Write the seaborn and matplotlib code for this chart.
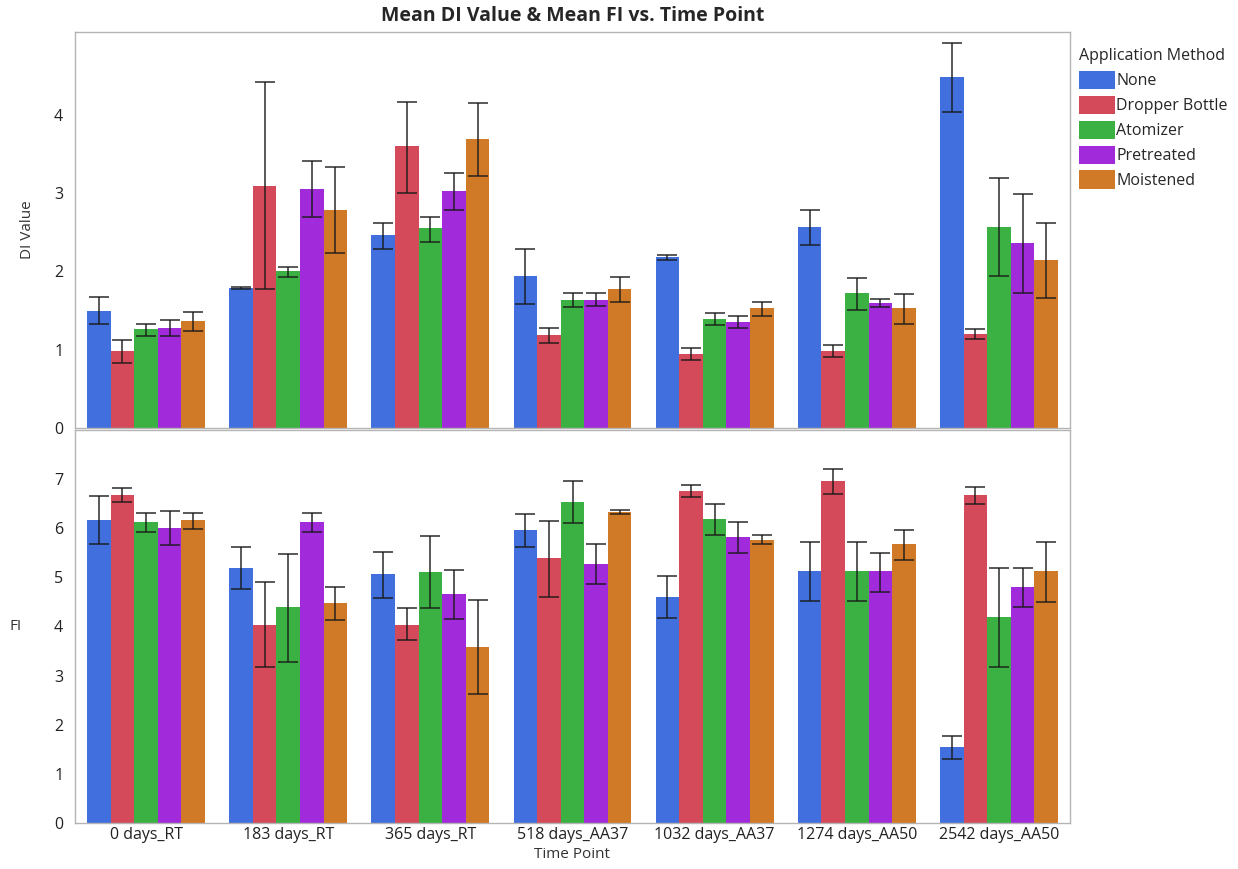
import numpy as np
import pandas as pd
import matplotlib
matplotlib.use("Agg")
import matplotlib.pyplot as plt
import seaborn as sns

# categories
time_points = ["0 days_RT", "183 days_RT", "365 days_RT", "518 days_AA37",
               "1032 days_AA37", "1274 days_AA50", "2542 days_AA50"]
methods = ["None", "Dropper Bottle", "Atomizer", "Pretreated", "Moistened"]
colors = ["#4170DE", "#D44A5A", "#3BB143", "#A12BDA", "#D07A27"]

# DI value means and error bar ends (rows = time point, cols = method)
di_mean = [[1.50, 0.99, 1.26, 1.28, 1.37],
           [1.79, 3.09, 2.00, 3.06, 2.79],
           [2.46, 3.60, 2.55, 3.03, 3.69],
           [1.94, 1.19, 1.64, 1.64, 1.78],
           [2.18, 0.94, 1.39, 1.36, 1.53],
           [2.57, 0.98, 1.72, 1.60, 1.53],
           [4.48, 1.20, 2.57, 2.36, 2.15]]
di_low = [[1.33, 0.83, 1.18, 1.17, 1.24],
          [1.78, 1.77, 1.93, 2.69, 2.23],
          [2.29, 3.00, 2.38, 2.78, 3.22],
          [1.58, 1.09, 1.54, 1.56, 1.61],
          [2.15, 0.87, 1.31, 1.28, 1.43],
          [2.34, 0.91, 1.51, 1.55, 1.33],
          [4.04, 1.14, 1.94, 1.73, 1.66]]
di_high = [[1.67, 1.13, 1.33, 1.38, 1.48],
           [1.80, 4.42, 2.06, 3.41, 3.34],
           [2.62, 4.17, 2.70, 3.26, 4.15],
           [2.29, 1.28, 1.73, 1.72, 1.93],
           [2.21, 1.02, 1.47, 1.43, 1.61],
           [2.79, 1.06, 1.92, 1.65, 1.71],
           [4.92, 1.26, 3.19, 2.99, 2.62]]

# FI means and error bar ends
fi_mean = [[6.17, 6.68, 6.13, 6.01, 6.16],
           [5.19, 4.04, 4.39, 6.12, 4.47],
           [5.06, 4.04, 5.11, 4.66, 3.59],
           [5.96, 5.39, 6.54, 5.28, 6.34],
           [4.61, 6.76, 6.19, 5.82, 5.77],
           [5.13, 6.96, 5.13, 5.12, 5.68],
           [1.54, 6.68, 4.19, 4.80, 5.12]]
fi_low = [[5.67, 6.53, 5.92, 5.66, 5.99],
          [4.77, 3.18, 3.28, 5.92, 4.13],
          [4.59, 3.73, 4.37, 4.16, 2.62],
          [5.61, 4.61, 6.11, 4.87, 6.29],
          [4.18, 6.63, 5.86, 5.50, 5.67],
          [4.52, 6.70, 4.52, 4.71, 5.36],
          [1.30, 6.49, 3.18, 4.39, 4.49]]
fi_high = [[6.66, 6.82, 6.32, 6.36, 6.31],
           [5.62, 4.90, 5.48, 6.31, 4.80],
           [5.52, 4.37, 5.84, 5.15, 4.53],
           [6.30, 6.15, 6.97, 5.68, 6.37],
           [5.03, 6.88, 6.50, 6.12, 5.86],
           [5.73, 7.20, 5.73, 5.50, 5.96],
           [1.77, 6.84, 5.20, 5.20, 5.72]]


def long_table(mean, low, high):
    rows = []
    for i, tp in enumerate(time_points):
        for j, m in enumerate(methods):
            rows.append({"Time Point": tp, "Application Method": m,
                         "mean": mean[i][j], "low": low[i][j], "high": high[i][j]})
    return pd.DataFrame(rows)


di_df = long_table(di_mean, di_low, di_high)
fi_df = long_table(fi_mean, fi_low, fi_high)

sns.set_style("white")
plt.rcParams["font.family"] = ["Open Sans", "DejaVu Sans"]

fig = plt.figure(figsize=(12.38, 8.69), dpi=100)
W, H = 1238, 869
ax1 = fig.add_axes([75 / W, (H - 428) / H, 995 / W, 396 / H])
ax2 = fig.add_axes([75 / W, (H - 823) / H, 995 / W, 393 / H])

palette = dict(zip(methods, colors))


def draw(ax, df, ylim, ticks):
    sns.barplot(data=df, x="Time Point", y="mean", hue="Application Method",
                order=time_points, hue_order=methods, palette=palette,
                errorbar=None, width=0.83, gap=0, saturation=1,
                linewidth=0, ax=ax)
    # error bars at the bar centers
    for j, m in enumerate(methods):
        cont = ax.containers[j]
        sub = df[df["Application Method"] == m].set_index("Time Point").loc[time_points]
        xs = [p.get_x() + p.get_width() / 2 for p in cont.patches]
        ys = sub["mean"].values
        yerr = [ys - sub["low"].values, sub["high"].values - ys]
        ax.errorbar(xs, ys, yerr=yerr, fmt="none", ecolor="#1a1a1a",
                    elinewidth=1.2, capsize=7, capthick=1.2, alpha=0.85, zorder=5)
    ax.set_xlim(-0.5, 6.5)
    ax.set_ylim(*ylim)
    ax.set_yticks(ticks)
    for s in ax.spines.values():
        s.set_color("#b4b4b4")
        s.set_linewidth(1.0)
    ax.tick_params(axis="y", direction="out", length=5, color="#b4b4b4",
                   labelsize=11.5, labelcolor="#222222")
    ax.tick_params(axis="x", length=0, labelsize=11.5, labelcolor="#222222", pad=3)


draw(ax1, di_df, (0, 5.06), [0, 1, 2, 3, 4])
draw(ax2, fi_df, (0, 8.0), [0, 1, 2, 3, 4, 5, 6, 7])

ax1.set_xticklabels([])
ax1.set_xlabel("")
ax1.set_ylabel("DI Value", fontsize=11, color="#333333", labelpad=14)
ax2.set_ylabel("FI", fontsize=11, color="#333333", rotation=0, labelpad=28, va="center")
ax2.set_xlabel("Time Point", fontsize=11, color="#333333", labelpad=3)

ax2.get_legend().remove()
handles, labels = ax1.get_legend_handles_labels()
ax1.get_legend().remove()
leg = fig.legend(handles, labels, title="Application Method",
                 loc="upper left", bbox_to_anchor=(1073 / W, (H - 42) / H),
                 frameon=False, fontsize=11.5, title_fontsize=11.5,
                 handlelength=2.2, handleheight=1.4, handletextpad=0.1,
                 labelspacing=0.4, borderaxespad=0)
leg._legend_box.align = "left"

fig.text(0.5 * (75 + 1070) / W, (H - 16) / H, "Mean DI Value & Mean FI vs. Time Point",
         ha="center", va="center", fontsize=14, fontweight="bold")

fig.savefig("out.png", dpi=100)
